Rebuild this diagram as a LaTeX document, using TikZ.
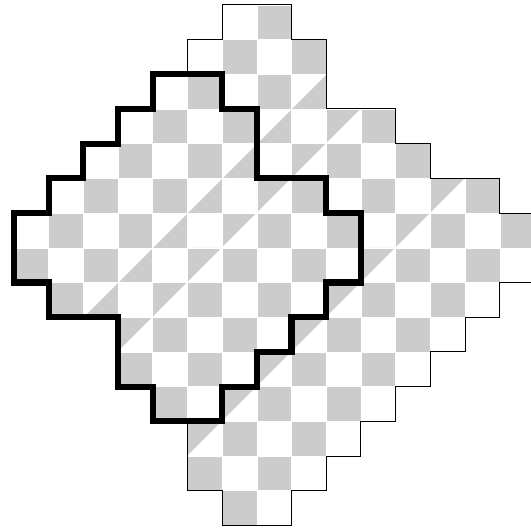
\documentclass[tikz,border=0pt]{standalone}
\usepackage{tikz}

\tikzset{
    cell/.style={fill=black!20},
    seam/.style={white, line width=0.4pt},
    outer/.style={line width=0.8pt},
    region/.style={line width=5pt},
}

\begin{document}
\begin{tikzpicture}

    \useasboundingbox (-0.4,-0.11) rectangle (14.9,15.14);

    \foreach \r/\a/\b in {0/6/7, 1/5/8, 2/4/8, 3/3/10, 4/2/11, 5/1/13, 6/0/14, 7/0/14,
                          8/1/13, 9/3/12, 10/3/11, 11/4/10, 12/5/9, 13/5/8, 14/6/7} {
        \foreach \c in {\a,...,\b} {
            \pgfmathtruncatemacro{\s}{\c+\r}
            \pgfmathtruncatemacro{\t}{\s+(\s==11)+(\s>17)}
            \pgfmathtruncatemacro{\up}{(\s==12)+(\s==17)}
            \ifnum\s=10
                \fill[cell] (\c,14-\r) -- ++(1,0) -- ++(0,1) -- cycle;
            \else\ifnum\up=1
                \fill[cell] (\c,14-\r) -- ++(0,1) -- ++(1,0) -- cycle;
            \else\ifodd\t
                \fill[cell] (\c,14-\r) rectangle ++(1,1);
            \fi\fi\fi
        }
    }

    \draw[seam] (0,0) grid (15,15);
    \draw[seam] (2,6) -- (9,13);
    \draw[seam] (3,5) -- (10,12);
    \draw[seam] (5,2) -- (13,10);

    \draw[outer] (5,13) |- (6,14) |- (8,15) |- (9,14) |- (11,12) |- (12,11) |- (14,10) |- (15,9)
        -- (15,7) -| (14,6) -| (13,5) -| (12,4) -| (11,3) -| (10,2) -| (9,1) -| (8,0)
        -- (6,0) |- (5,1) -- (5,3);

    \draw[region] (4,13) -- (6,13) |- (7,12) |- (9,10) |- (10,9) -- (10,7) -| (9,6) -| (8,5)
        -| (7,4) -| (6,3) -- (4,3) |- (3,4) |- (1,6) |- (0,7) -- (0,9) -| (1,10) -| (2,11)
        -| (3,12) -| (4,13) -- cycle;

\end{tikzpicture}
\end{document}
